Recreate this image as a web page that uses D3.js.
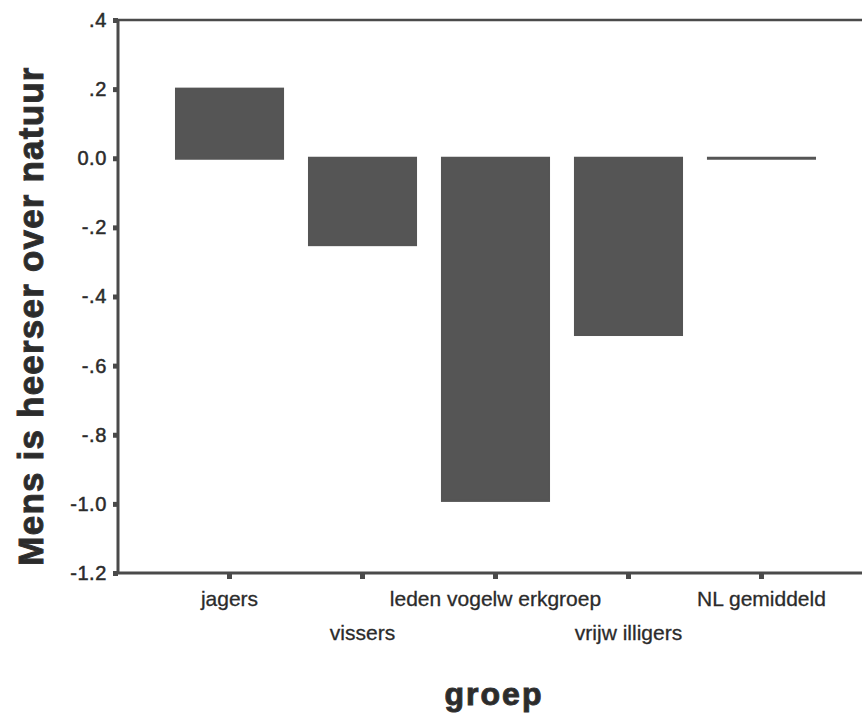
<!DOCTYPE html>
<html>
<head>
<meta charset="utf-8">
<script src="https://d3js.org/d3.v7.min.js"></script>
<style>
  body { margin: 0; background: #fff; }
  text { font-family: "Liberation Sans", Arial, sans-serif; fill: #2b2b2b; }
</style>
</head>
<body>
<div id="chart"></div>
<script>
// data
var groups = ["jagers", "vissers", "leden vogelwerkgroep", "vrijwilligers", "NL gemiddeld"];
var groupLabels = ["jagers", "vissers", "leden vogelw erkgroep", "vrijw illigers", "NL gemiddeld"];
var means = [0.2, -0.25, -0.99, -0.51, 0.0];
var yTicks = [0.4, 0.2, 0.0, -0.2, -0.4, -0.6, -0.8, -1.0, -1.2];
var yTickLabels = [".4", ".2", "0.0", "-.2", "-.4", "-.6", "-.8", "-1.0", "-1.2"];

var svgWidth = 862;
var svgHeight = 713;
var axisColor = "#4a4a4a";
var barColor = "#555555";

var svg = d3.select("#chart")
  .append("svg")
  .attr("width", svgWidth)
  .attr("height", svgHeight);

// scales
var xScale = d3.scaleBand()
  .domain(groups)
  .range([118, 873])
  .paddingInner(0.195)
  .paddingOuter(0.436);

var yScale = d3.scaleLinear()
  .domain([-1.2, 0.4])
  .range([573, 20]);

// bars (zero-height bar still shows as a thin line)
svg.selectAll("rect.bar")
  .data(groups)
  .enter()
  .append("rect")
  .attr("class", "bar")
  .attr("x", d => xScale(d))
  .attr("width", xScale.bandwidth())
  .attr("y", (d, i) => yScale(Math.max(0, means[i])) - 0.5)
  .attr("height", (d, i) => Math.abs(yScale(means[i]) - yScale(0)) + 1)
  .attr("fill", barColor)
  .attr("stroke", barColor)
  .attr("stroke-width", 2);

// y axis
var leftAxis = d3.axisLeft(yScale)
  .tickValues(yTicks)
  .tickSize(5)
  .tickPadding(6)
  .tickFormat((d, i) => yTickLabels[i]);

var yAxisG = svg.append("g")
  .attr("transform", "translate(118,0)")
  .call(leftAxis);
yAxisG.select(".domain").remove();
yAxisG.selectAll(".tick line").attr("stroke", axisColor).attr("stroke-width", 5);
yAxisG.selectAll(".tick text")
  .attr("font-size", "20px")
  .attr("letter-spacing", "0.6px")
  .attr("font-family", "Liberation Sans, Arial, sans-serif")
  .attr("fill", "#2b2b2b")
  .attr("stroke", "#2b2b2b")
  .attr("stroke-width", 0.5);

svg.append("line")
  .attr("x1", 118).attr("x2", 118)
  .attr("y1", yScale(0.4) - 1).attr("y2", yScale(-1.2) + 1)
  .attr("stroke", axisColor).attr("stroke-width", 3);

// top frame line
svg.append("line")
  .attr("x1", 118).attr("x2", svgWidth)
  .attr("y1", yScale(0.4)).attr("y2", yScale(0.4))
  .attr("stroke", axisColor).attr("stroke-width", 2.5);

// x axis
var bottomAxis = d3.axisBottom(xScale)
  .tickSize(6)
  .tickPadding(13)
  .tickFormat((d, i) => groupLabels[i]);

var xAxisG = svg.append("g")
  .attr("transform", "translate(0,573)")
  .call(bottomAxis);
xAxisG.select(".domain").remove();
xAxisG.selectAll(".tick line").attr("stroke", axisColor).attr("stroke-width", 5);
xAxisG.selectAll(".tick text")
  .attr("font-size", "21px")
  .attr("font-family", "Liberation Sans, Arial, sans-serif")
  .attr("fill", "#2b2b2b")
  .attr("stroke", "#2b2b2b")
  .attr("stroke-width", 0.3)
  .attr("dy", (d, i) => i % 2 === 0 ? "0.68em" : "2.28em");

svg.append("line")
  .attr("x1", 116).attr("x2", svgWidth)
  .attr("y1", 573).attr("y2", 573)
  .attr("stroke", axisColor).attr("stroke-width", 3);

// axis titles
svg.append("text")
  .attr("transform", "translate(43,316) rotate(-90)")
  .attr("text-anchor", "middle")
  .attr("font-size", "35px")
  .attr("font-weight", "bold")
  .attr("letter-spacing", "1.2px")
  .attr("fill", "#333")
  .attr("stroke", "#333")
  .attr("stroke-width", 1)
  .text("Mens is heerser over natuur");

svg.append("text")
  .attr("x", 494)
  .attr("y", 705)
  .attr("text-anchor", "middle")
  .attr("font-size", "32px")
  .attr("font-weight", "bold")
  .attr("letter-spacing", "2px")
  .attr("fill", "#333")
  .attr("stroke", "#333")
  .attr("stroke-width", 1)
  .text("groep");
</script>
</body>
</html>
